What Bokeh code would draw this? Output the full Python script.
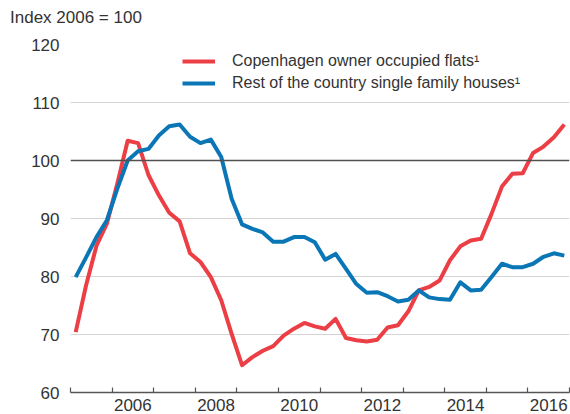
from bokeh.plotting import figure
from bokeh.models import FixedTicker, Legend, LegendItem, Span, CustomJSTickFormatter, Div
from bokeh.layouts import column
from bokeh.embed import file_html
from bokeh.resources import INLINE

# Quarterly periods 2005Q1 .. 2016Q4
years = [y for y in range(2005, 2017) for _ in range(4)]
quarters = [q for _ in range(2005, 2017) for q in range(1, 5)]
x = [y + (q - 0.5) / 4 for y, q in zip(years, quarters)]

copenhagen_flats = [
    70.4, 78.5, 85.3, 89.1, 96.0, 103.4, 103.0, 97.5,
    94.0, 91.0, 89.5, 84.0, 82.5, 79.9, 75.9, 70.1,
    64.7, 66.1, 67.2, 68.0, 69.8, 71.0, 72.0, 71.4,
    71.0, 72.7, 69.4, 69.0, 68.8, 69.1, 71.2, 71.6,
    74.0, 77.6, 78.2, 79.3, 82.8, 85.2, 86.2, 86.5,
    90.8, 95.5, 97.7, 97.8, 101.3, 102.4, 104.0, 106.2,
]
rest_houses = [
    79.9, 83.3, 86.8, 89.7, 95.1, 100.0, 101.6, 102.0,
    104.3, 105.9, 106.2, 104.1, 103.0, 103.6, 100.6, 93.4,
    89.0, 88.2, 87.6, 86.0, 86.0, 86.8, 86.8, 85.9,
    82.9, 83.9, 81.3, 78.7, 77.2, 77.3, 76.6, 75.7,
    76.0, 77.6, 76.4, 76.1, 76.0, 79.0, 77.6, 77.7,
    79.9, 82.2, 81.6, 81.6, 82.2, 83.4, 84.0, 83.6,
]
series_names = ["Copenhagen owner occupied flats\u00b9",
                "Rest of the country single family houses\u00b9"]
y_unit_label = "Index 2006 = 100"
y_ticks = [60, 70, 80, 90, 100, 110, 120]
year_bounds = list(range(2005, 2018))
label_years = [2006.5, 2008.5, 2010.5, 2012.5, 2014.5, 2016.5]

RED = "#EC3E45"
BLUE = "#0A76B6"
TXT = "#333333"
FONT = "Liberation Sans"

header = Div(text=y_unit_label, width=400, height=20, margin=(8, 0, 1, 10),
             styles={"font-family": FONT, "font-size": "17px", "color": TXT,
                     "line-height": "20px", "white-space": "nowrap"})

p = figure(width=570, height=385, x_range=(2005, 2017), y_range=(60, 120),
           output_backend="svg", toolbar_location=None,
           min_border_left=70, min_border_right=1, min_border_top=15,
           min_border_bottom=22)

p.outline_line_color = None
p.xgrid.grid_line_color = None
p.ygrid.grid_line_color = "#d4d4d4"
p.ygrid.grid_line_width = 1.2

p.yaxis.ticker = FixedTicker(ticks=y_ticks)
p.yaxis.axis_line_color = None
p.yaxis.major_tick_line_color = None
p.yaxis.minor_tick_line_color = None
p.yaxis.major_label_standoff = 5
p.yaxis.major_label_text_font = FONT
p.yaxis.major_label_text_font_size = "17px"
p.yaxis.major_label_text_color = TXT

p.xaxis.ticker = FixedTicker(ticks=label_years, minor_ticks=year_bounds)
p.xaxis.formatter = CustomJSTickFormatter(code="return Math.floor(tick).toString();")
p.xaxis.axis_line_color = "#555555"
p.xaxis.axis_line_width = 1.5
p.xaxis.major_tick_line_color = None
p.xaxis.minor_tick_line_color = "#555555"
p.xaxis.minor_tick_line_width = 1.2
p.xaxis.minor_tick_in = 5
p.xaxis.minor_tick_out = 0
p.xaxis.major_label_standoff = 0
p.xaxis.major_label_text_font = FONT
p.xaxis.major_label_text_font_size = "17px"
p.xaxis.major_label_text_color = TXT

p.add_layout(Span(location=100, dimension="width", line_color="#505050", line_width=1.6))

r1 = p.line(x, copenhagen_flats, line_color=RED, line_width=4, line_join="round")
r2 = p.line(x, rest_houses, line_color=BLUE, line_width=4, line_join="round")

legend = Legend(items=[LegendItem(label=series_names[0], renderers=[r1]),
                       LegendItem(label=series_names[1], renderers=[r2])],
                location=(112, 298), orientation="vertical",
                border_line_color=None, background_fill_alpha=0,
                padding=0, margin=0, spacing=0,
                glyph_width=33, glyph_height=22, label_height=22,
                label_standoff=17,
                label_text_font=FONT, label_text_font_size="16px",
                label_text_color=TXT)
p.add_layout(legend)

layout = column(header, p, spacing=0)

open("out.html", "w").write(file_html(layout, INLINE))
